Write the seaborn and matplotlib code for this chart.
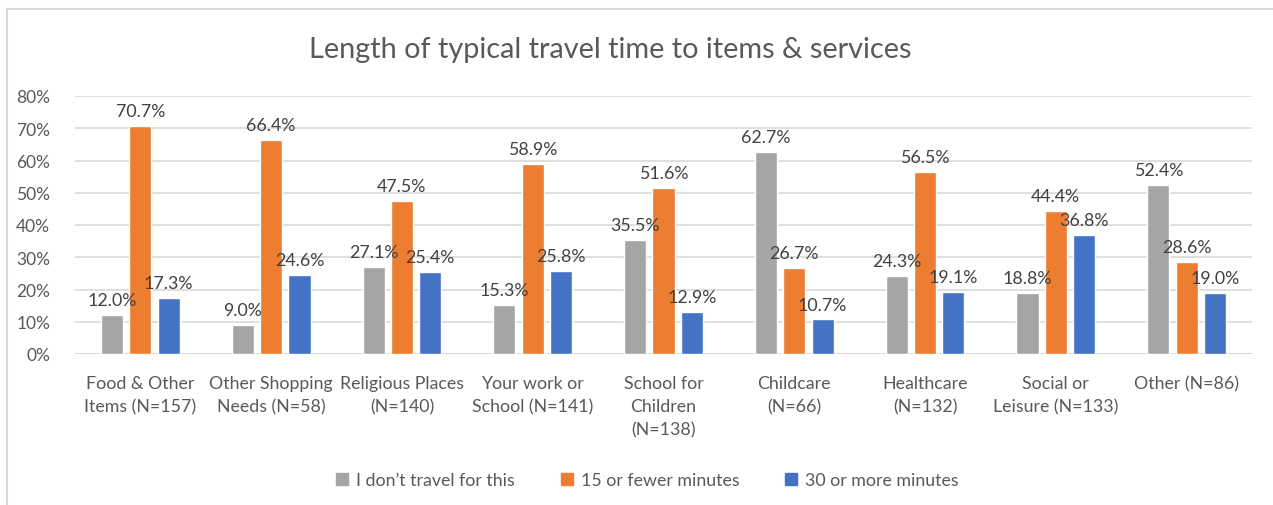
import matplotlib
matplotlib.use("Agg")
import matplotlib.pyplot as plt
from matplotlib.lines import Line2D
import seaborn as sns
import pandas as pd

sns.set_style("white")
plt.rcParams['font.family'] = ['Lato', 'DejaVu Sans']

# data (percent)
categories = ["Food & Other\nItems (N=157)", "Other Shopping\nNeeds (N=58)",
              "Religious Places\n(N=140)", "Your work or\nSchool (N=141)",
              "School for\nChildren\n(N=138)", "Childcare\n(N=66)",
              "Healthcare\n(N=132)", "Social or\nLeisure (N=133)", "Other (N=86)"]
series = ["I don\u2019t travel for this", "15 or fewer minutes", "30 or more minutes"]
no_travel = [12.0, 9.0, 27.1, 15.3, 35.5, 62.7, 24.3, 18.8, 52.4]
fifteen_or_less = [70.7, 66.4, 47.5, 58.9, 51.6, 26.7, 56.5, 44.4, 28.6]
thirty_or_more = [17.3, 24.6, 25.4, 25.8, 12.9, 10.7, 19.1, 36.8, 19.0]
colors = ["#A5A5A5", "#ED7D31", "#4472C4"]

rows = []
for s, vals in zip(series, [no_travel, fifteen_or_less, thirty_or_more]):
    for c, v in zip(categories, vals):
        rows.append({"category": c, "series": s, "value": v})
df = pd.DataFrame(rows)

my_dpi = 100
fig = plt.figure(figsize=(1273/my_dpi, 506/my_dpi), dpi=my_dpi)
ax = fig.add_axes([75/1273, 1-355/506, (1252-75)/1273, (355-97)/506])

sns.barplot(data=df, x="category", y="value", hue="series", order=categories,
            hue_order=series, palette=colors, width=0.65, gap=0.22,
            saturation=1, ax=ax, legend=False, errorbar=None)

for cont in ax.containers:
    ax.bar_label(cont, labels=[f"{b.get_height():.1f}%" for b in cont],
                 padding=5, fontsize=12.8, color="#404040")

ax.set_ylim(0, 80)
ax.set_yticks(range(0, 81, 10))
ax.set_yticklabels([f"{t}%" for t in range(0, 81, 10)])
ax.set_xlim(-0.5, len(categories) - 0.5)
ax.yaxis.grid(True, color="#D9D9D9", linewidth=1.2)
ax.set_axisbelow(True)
for sp in ax.spines.values():
    sp.set_visible(False)
ax.axhline(0, color="#D9D9D9", linewidth=2, zorder=0.5)
ax.tick_params(axis="y", length=0, pad=18, labelsize=12.5, labelcolor="#595959")
ax.tick_params(axis="x", length=0, pad=15, labelsize=12.8, labelcolor="#595959")
for lab in ax.get_xticklabels():
    lab.set_linespacing(1.55)
    lab.set_verticalalignment("top")
ax.set_xlabel("")
ax.set_ylabel("")

fig.text(610/1273, 1-50/506, "Length of typical travel time to items & services",
         ha="center", va="center", fontsize=20.8, color="#595959")

handles = [Line2D([], [], marker="s", linestyle="none", markersize=9,
                  markerfacecolor=c, markeredgecolor=c) for c in colors]
fig.legend(handles, series, loc="center", bbox_to_anchor=(647/1273, 1-481/506),
           ncol=3, frameon=False, fontsize=12.8, handlelength=0.8,
           handletextpad=0.4, columnspacing=2.5, labelcolor="#595959")

# chart area border (partially cropped in the original)
fig.add_artist(Line2D([7/1273, 7/1273], [0, 1-10/506], color="#D9D9D9", linewidth=1.5))
fig.add_artist(Line2D([7/1273, 1], [1-10/506, 1-10/506], color="#D9D9D9", linewidth=1.5))

fig.savefig("out.png", dpi=my_dpi)
